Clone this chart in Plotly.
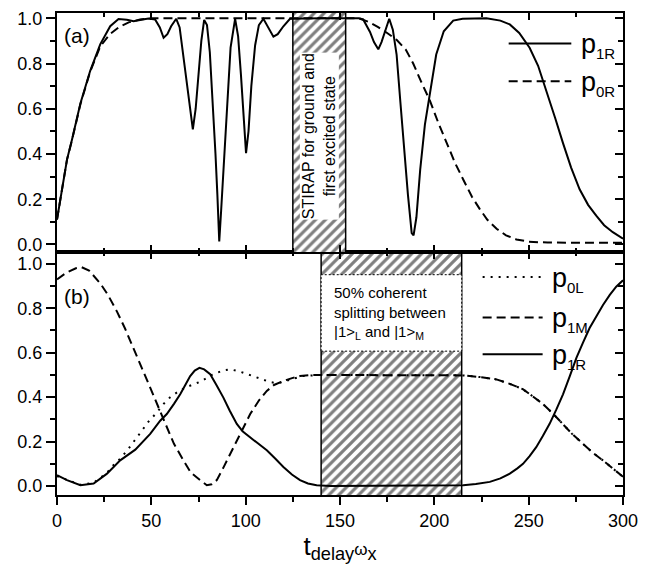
import plotly.graph_objects as go

# ---------------- data: panel (a) ----------------
t_a_1R = [0, 2.6, 5.3, 7.9, 12.4, 17.6, 22.9, 28.2, 32.6, 37, 40.6, 44, 48.5, 52, 54.5, 56.5, 58.5, 60.5,
          63.2, 65, 66.5, 68.5, 70.5, 72, 73.5, 75, 76.5, 78, 79.5, 81, 82.5, 84, 85, 86, 87, 88.5, 90, 92,
          94.4, 96, 97.5, 99, 100.2, 101.5, 103, 105, 107, 109.4, 112, 114.7, 117, 120, 123.5, 130, 140,
          150, 155, 160, 162.3, 164, 165.9, 168, 170.3, 172, 173.8, 176.1, 178, 180, 182, 184, 186, 188,
          189, 190.5, 192.5, 195, 197.6, 201, 205, 210, 215, 227.6, 235, 240, 245, 250.5, 255, 259.4, 264,
          268.2, 272.5, 277, 281.5, 285.8, 290, 294.6, 300]
p_a_1R = [0.11, 0.244, 0.375, 0.462, 0.623, 0.768, 0.885, 0.965, 0.997, 0.994, 0.987, 0.993, 0.999, 0.995,
          0.96, 0.914, 0.93, 0.965, 0.998, 0.96, 0.86, 0.72, 0.59, 0.509, 0.6, 0.76, 0.9, 0.993, 0.97, 0.85,
          0.65, 0.4, 0.22, 0.013, 0.15, 0.38, 0.62, 0.87, 0.998, 0.92, 0.75, 0.53, 0.404, 0.5, 0.7, 0.88,
          0.97, 0.998, 0.96, 0.919, 0.93, 0.965, 0.998, 1.0, 1.0, 1.0, 1.0, 1.0, 0.995, 0.97, 0.94, 0.895,
          0.863, 0.895, 0.94, 0.998, 0.95, 0.84, 0.63, 0.42, 0.22, 0.05, 0.04, 0.12, 0.33, 0.53, 0.674,
          0.84, 0.943, 0.99, 0.998, 1.0, 0.99, 0.973, 0.935, 0.87, 0.79, 0.68, 0.56, 0.448, 0.34, 0.244,
          0.175, 0.127, 0.085, 0.054, 0.025]

t_a_0R = [0, 2.6, 5.3, 7.9, 12.4, 17.6, 22.9, 28, 33, 38, 44, 50, 100, 160, 165, 170, 175, 180, 185,
          188.8, 193, 197.6, 202, 206.5, 211, 215.3, 220, 224.1, 228, 233, 238, 243.5, 250, 260, 300]
p_a_0R = [0.11, 0.244, 0.375, 0.46, 0.62, 0.765, 0.875, 0.93, 0.962, 0.982, 0.995, 1.0, 1.0, 1.0, 0.985,
          0.962, 0.935, 0.905, 0.86, 0.8, 0.72, 0.637, 0.54, 0.448, 0.36, 0.287, 0.21, 0.156, 0.11,
          0.069, 0.04, 0.022, 0.012, 0.008, 0.007]

# ---------------- data: panel (b) ----------------
t_b_0L = [0, 5.3, 12.4, 19.4, 26.5, 30, 33.5, 37.9, 40.9, 44.6, 48.5, 52.9, 56.4, 60, 65, 70, 76, 82, 88,
          92, 97, 102, 108, 113, 117, 120, 125, 130, 139.4, 214.5, 215.3, 225, 232.9, 240, 246.9, 252,
          257.6, 263, 268.2, 273, 278.8, 284, 289.3, 295, 300]
p_b_0L = [0.045, 0.027, 0.006, 0.015, 0.06, 0.095, 0.123, 0.168, 0.205, 0.245, 0.29, 0.331, 0.369, 0.40,
          0.43, 0.45, 0.47, 0.50, 0.52, 0.525, 0.515, 0.5, 0.485, 0.468, 0.462, 0.47, 0.485, 0.495, 0.5,
          0.5, 0.498, 0.49, 0.48, 0.46, 0.436, 0.405, 0.369, 0.325, 0.28, 0.235, 0.19, 0.15, 0.116,
          0.077, 0.042]

t_b_1M = [0, 5, 10, 13, 17, 23, 27, 31.8, 36, 40.6, 45, 49.4, 54, 58.2, 62, 67, 71, 75.9, 79.4, 82, 84.7,
          88, 93.5, 98, 102.4, 107, 111.2, 115, 120, 125, 128.8, 135, 139.4, 214.5, 215.3, 225, 232.9,
          240, 246.9, 252, 257.6, 263, 268.2, 273, 278.8, 284, 289.3, 295, 300]
p_b_1M = [0.93, 0.96, 0.98, 0.985, 0.97, 0.911, 0.86, 0.785, 0.71, 0.621, 0.53, 0.443, 0.35, 0.265, 0.19,
          0.116, 0.06, 0.027, 0.004, 0.008, 0.027, 0.08, 0.175, 0.25, 0.324, 0.385, 0.428, 0.455, 0.473,
          0.487, 0.495, 0.5, 0.5, 0.5, 0.498, 0.49, 0.48, 0.46, 0.436, 0.405, 0.369, 0.325, 0.28, 0.235,
          0.19, 0.15, 0.116, 0.077, 0.042]

t_b_1R = [0, 5.3, 12.4, 19.4, 26.5, 30, 33.5, 41.5, 49.4, 54.7, 58.2, 62, 65.3, 68, 70.6, 73, 75.5, 78,
          81.2, 84.5, 88.2, 91.5, 95.3, 98.5, 102.4, 106.5, 111.2, 115.5, 120, 124.5, 128.8, 133, 137.6,
          145, 214.5, 215.3, 222, 229.4, 235, 240, 244, 247, 250.5, 254, 257.5, 261.1, 264.7, 268.2,
          271.8, 275.3, 278.8, 282.3, 286, 289.4, 293, 296.4, 300]
p_b_1R = [0.049, 0.027, 0.004, 0.012, 0.056, 0.086, 0.116, 0.164, 0.235, 0.294, 0.324, 0.37, 0.413, 0.455,
          0.495, 0.52, 0.532, 0.525, 0.503, 0.455, 0.398, 0.34, 0.28, 0.245, 0.22, 0.19, 0.161, 0.125,
          0.086, 0.052, 0.027, 0.012, 0.004, 0.0, 0.002, 0.004, 0.01, 0.019, 0.035, 0.056, 0.08, 0.1,
          0.135, 0.175, 0.225, 0.28, 0.345, 0.413, 0.495, 0.577, 0.645, 0.711, 0.765, 0.815, 0.86,
          0.897, 0.926]

stirap_window = (125, 153)      # hatched region in (a)
split_window = (140, 214.5)     # hatched region in (b)
split_box = (0.607, 0.951)      # white label box in (b)

x_ticks = [0, 50, 100, 150, 200, 250, 300]

FONT = "Arial, Liberation Sans, sans-serif"
BLACK = "#000000"
DASH = "9px,5px"
DOT = "2px,6px"

fig = go.Figure()

hatch = dict(shape="/", fgcolor=BLACK, bgcolor="white", size=7, solidity=0.45)

# hatched windows
fig.add_trace(go.Bar(x=[(stirap_window[0] + stirap_window[1]) / 2], y=[1.3], base=[-0.2],
                     width=[stirap_window[1] - stirap_window[0]], xaxis="x2", yaxis="y2",
                     marker=dict(color="white", pattern=hatch, line=dict(color=BLACK, width=1.5)),
                     showlegend=False, hoverinfo="skip"))
fig.add_trace(go.Bar(x=[(split_window[0] + split_window[1]) / 2], y=[1.3], base=[-0.2],
                     width=[split_window[1] - split_window[0]], xaxis="x", yaxis="y",
                     marker=dict(color="white", pattern=hatch, line=dict(color=BLACK, width=1.5)),
                     showlegend=False, hoverinfo="skip"))

# panel (a) curves
fig.add_trace(go.Scatter(x=t_a_0R, y=p_a_0R, mode="lines", xaxis="x2", yaxis="y2",
                         line=dict(color=BLACK, width=2, dash=DASH), name="p0R", showlegend=False))
fig.add_trace(go.Scatter(x=t_a_1R, y=p_a_1R, mode="lines", xaxis="x2", yaxis="y2",
                         line=dict(color=BLACK, width=2), name="p1R", showlegend=False))

# panel (b) curves
fig.add_trace(go.Scatter(x=t_b_0L, y=p_b_0L, mode="lines", xaxis="x", yaxis="y",
                         line=dict(color=BLACK, width=2, dash=DOT), name="p0L", showlegend=False))
fig.add_trace(go.Scatter(x=t_b_1M, y=p_b_1M, mode="lines", xaxis="x", yaxis="y",
                         line=dict(color=BLACK, width=2, dash=DASH), name="p1M", showlegend=False))
fig.add_trace(go.Scatter(x=t_b_1R, y=p_b_1R, mode="lines", xaxis="x", yaxis="y",
                         line=dict(color=BLACK, width=2), name="p1R", showlegend=False))

# dummy traces to activate mirrored tick axes
fig.add_trace(go.Scatter(x=[None], y=[None], xaxis="x3", yaxis="y3", showlegend=False, hoverinfo="skip"))
fig.add_trace(go.Scatter(x=[None], y=[None], xaxis="x4", yaxis="y4", showlegend=False, hoverinfo="skip"))

split = 245 / 486
XR = [0, 300]
YR_b = [-0.040, 1.053]
YR_a = [-0.0337, 1.0236]

tickfont = dict(family=FONT, size=18, color=BLACK)

def xax(**kw):
    d = dict(range=XR, showline=True, linecolor=BLACK, linewidth=2, showgrid=False, zeroline=False,
             tickvals=x_ticks, tickwidth=2, tickcolor=BLACK, tickfont=tickfont)
    d.update(kw)
    return d

def yax(**kw):
    d = dict(showline=True, linecolor=BLACK, linewidth=2, showgrid=False, zeroline=False,
             dtick=0.2, tick0=0, tickformat=".1f", tickwidth=2, tickcolor=BLACK, tickfont=tickfont,
             ticklabeloverflow="allow")
    d.update(kw)
    return d

fig.update_layout(
    width=644, height=556,
    margin=dict(l=49, r=29, t=1, b=69),
    paper_bgcolor="white", plot_bgcolor="white",
    font=dict(family=FONT, color=BLACK),
    barmode="overlay",
    xaxis=xax(anchor="y", ticks="outside", ticklen=8,
              minor=dict(dtick=25, tick0=0, ticks="outside", ticklen=5, tickwidth=2, tickcolor=BLACK),
              title=dict(text="t<sub>delay</sub><span style='font-size:17px'>ω</span><sub>x</sub>",
                         font=dict(family=FONT, size=26, color=BLACK), standoff=4)),
    xaxis2=xax(anchor="y2", ticks="inside", ticklen=7, showticklabels=False, matches="x",
               minor=dict(dtick=25, tick0=0, ticks="inside", ticklen=4, tickwidth=2, tickcolor=BLACK)),
    xaxis3=xax(anchor="y", overlaying="x", side="top", ticks="inside", ticklen=7, showticklabels=False,
               minor=dict(dtick=25, tick0=0, ticks="inside", ticklen=4, tickwidth=2, tickcolor=BLACK)),
    xaxis4=xax(anchor="y2", overlaying="x2", side="top", ticks="inside", ticklen=7, showticklabels=False,
               minor=dict(dtick=25, tick0=0, ticks="inside", ticklen=4, tickwidth=2, tickcolor=BLACK)),
    yaxis=yax(domain=[0, split], range=YR_b, anchor="x", ticks="outside", ticklen=9,
              minor=dict(dtick=0.1, tick0=0, ticks="outside", ticklen=5, tickwidth=2, tickcolor=BLACK)),
    yaxis2=yax(domain=[split, 1], range=YR_a, anchor="x2", ticks="outside", ticklen=9,
               minor=dict(dtick=0.1, tick0=0, ticks="outside", ticklen=5, tickwidth=2, tickcolor=BLACK)),
    yaxis3=yax(range=YR_b, anchor="x", overlaying="y", side="right", ticks="inside", ticklen=8,
               showticklabels=False,
               minor=dict(dtick=0.1, tick0=0, ticks="inside", ticklen=5, tickwidth=2, tickcolor=BLACK)),
    yaxis4=yax(range=YR_a, anchor="x2", overlaying="y2", side="right", ticks="inside", ticklen=8,
               showticklabels=False,
               minor=dict(dtick=0.1, tick0=0, ticks="inside", ticklen=5, tickwidth=2, tickcolor=BLACK)),
)

# white label box in hatched region (b)
fig.add_shape(type="rect", xref="x", yref="y", x0=split_window[0], x1=split_window[1],
              y0=split_box[0], y1=split_box[1], fillcolor="white",
              line=dict(color=BLACK, width=1, dash="2px,2px"), layer="above")

annots = []
annots.append(dict(xref="x", yref="y", x=146, y=(split_box[0] + split_box[1]) / 2, xanchor="left",
                   yanchor="middle", align="left", showarrow=False,
                   text="50% coherent<br>splitting between<br>|1&gt;<sub>L</sub> and |1&gt;<sub>M</sub>",
                   font=dict(family=FONT, size=15, color=BLACK)))
annots.append(dict(xref="x2", yref="y2", x=(stirap_window[0] + stirap_window[1]) / 2, y=0.48,
                   textangle=-90, showarrow=False, align="center",
                   text="STIRAP for ground and<br>first excited state",
                   font=dict(family=FONT, size=16, color=BLACK), bgcolor="white", borderpad=0))
annots.append(dict(xref="x2", yref="y2", x=2.5, y=0.925, xanchor="left", yanchor="middle",
                   showarrow=False, text="(a)", font=dict(family=FONT, size=21, color=BLACK)))
annots.append(dict(xref="x", yref="y", x=2.5, y=0.852, xanchor="left", yanchor="middle",
                   showarrow=False, text="(b)", font=dict(family=FONT, size=21, color=BLACK)))

# legend (a)
leg_a = [("p", "1R", "solid", 0.889), ("p", "0R", DASH, 0.722)]
for base, sub, dash, yy in leg_a:
    fig.add_shape(type="line", xref="x2", yref="y2", x0=239.4, x1=272.6, y0=yy, y1=yy,
                  line=dict(color=BLACK, width=2, dash=dash))
    annots.append(dict(xref="x2", yref="y2", x=276.5, y=yy - 0.01, xanchor="left", yanchor="middle",
                       showarrow=False,
                       text=f"{base}<sub><span style='font-size:15px'>{sub}</span></sub>",
                       font=dict(family=FONT, size=27, color=BLACK)))

# legend (b)
leg_b = [("p", "0L", DOT, 0.941), ("p", "1M", DASH, 0.758), ("p", "1R", "solid", 0.593)]
for base, sub, dash, yy in leg_b:
    fig.add_shape(type="line", xref="x", yref="y", x0=225.6, x1=257.4, y0=yy, y1=yy,
                  line=dict(color=BLACK, width=2, dash=dash))
    annots.append(dict(xref="x", yref="y", x=261.5, y=yy - 0.01, xanchor="left", yanchor="middle",
                       showarrow=False,
                       text=f"{base}<sub><span style='font-size:15px'>{sub}</span></sub>",
                       font=dict(family=FONT, size=27, color=BLACK)))

fig.update_layout(annotations=annots)

fig.write_html("out.html")
